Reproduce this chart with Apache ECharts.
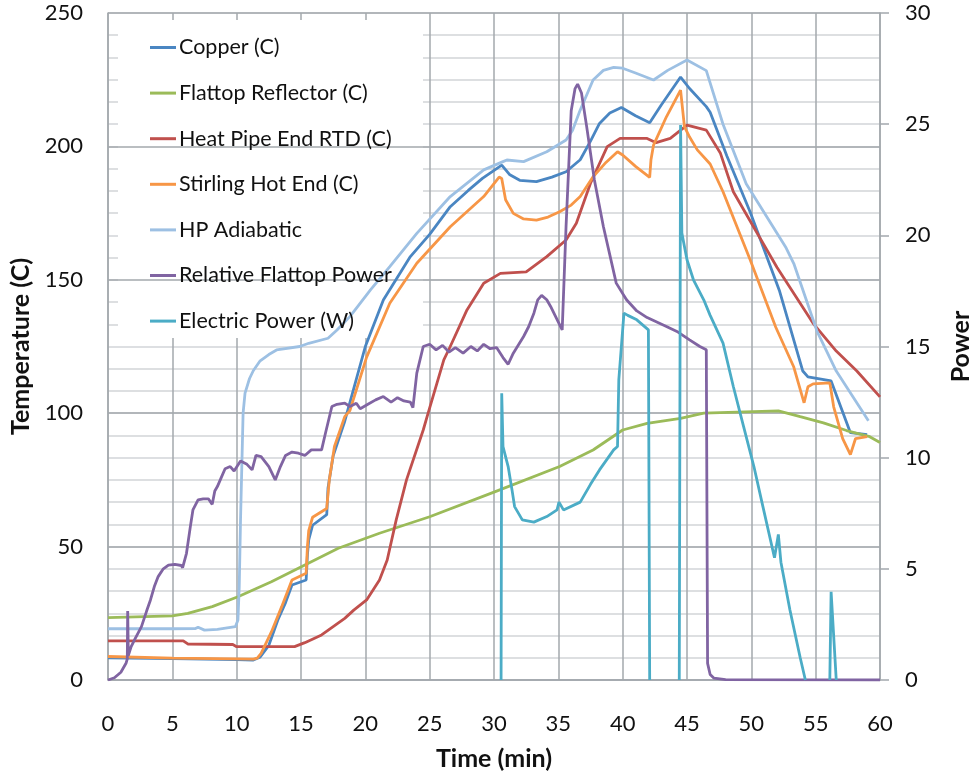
<!DOCTYPE html>
<html>
<head>
<meta charset="utf-8">
<script src="https://cdn.jsdelivr.net/npm/echarts@6/dist/echarts.min.js"></script>
<style>
  html, body { margin: 0; padding: 0; background: #fff; }
  #chart { width: 972px; height: 773px; }
</style>
</head>
<body>
<div id="chart"></div>
<script>
// Temperatures (C) over time (min): [time, value]
const copper = [[0,8.3],[5,8],[10,7.6],[11.3,7.5],[11.8,8.5],[12.5,13],[13.2,22.5],[13.8,29],[14.3,35.6],[15.4,37.5],[15.5,47],[15.6,52.5],[15.9,58],[17.0,62],[17.1,72],[17.5,84],[18.4,97],[19.2,111],[20.0,125],[21.4,142.4],[23.5,158.7],[25,167],[26.6,177.4],[28,183.5],[29.1,188],[30.6,193],[31.2,189.5],[32,187.3],[33.3,186.8],[34.5,188.5],[35.6,190.5],[36.7,195],[37.5,202],[38.2,208.6],[39,212.5],[39.9,214.6],[41,211.5],[42.1,208.9],[43,215.5],[44.5,226],[45.2,221.7],[46.5,214.9],[46.8,212.8],[48.1,196.4],[49.9,175.5],[52.2,145.7],[54.0,115.8],[54.4,113.6],[56.2,112.1],[57.7,92.7],[59.0,92]];

const flattopReflector = [[0,23.4],[5,24],[6.2,25],[8.1,27.5],[10.1,31.2],[12.7,36.8],[15.3,43.1],[17.9,49.4],[21.1,55],[25.0,61.2],[30.1,70.6],[35.1,80],[37.7,86.2],[40.0,93.7],[41.9,96.2],[44.5,98.1],[46.3,100],[52.1,100.9],[53.8,98.7],[55.6,96.4],[57.4,93.5],[59.2,91.2],[60,89]];

const heatPipeEnd = [[0,14.7],[5.85,14.7],[6.2,13.5],[9.7,13.3],[10.0,12.5],[14.5,12.5],[15.3,14],[16.6,16.9],[17.5,20],[18.4,23.1],[19.1,26.2],[20.1,30],[21.1,37.5],[21.7,45],[22.4,60],[23.2,75],[24.5,93.7],[24.8,98.7],[26.1,120],[26.6,125],[27.9,138.7],[29.2,148.7],[30.5,152.4],[32.5,153],[34.1,158.7],[35.6,164.9],[36.4,171.2],[37.5,186.2],[38.8,199.9],[39.8,203],[41.9,203],[42.6,201.4],[43.7,203],[45.0,208],[46.5,206.1],[47.6,197.4],[48.6,183],[50.2,169.6],[52.0,154.6],[54.8,133.7],[56.6,123.3],[58.2,115.8],[60,106.1]];

const stirlingHotEnd = [[0,8.8],[5,8.2],[10,7.9],[11.3,7.8],[11.6,8.2],[11.9,10],[12.7,18],[13.5,27.5],[14.3,37.5],[15.4,40],[15.5,50],[15.6,56],[15.9,61],[17.0,64.3],[17.2,75],[17.6,87.5],[18.4,98.7],[18.8,101],[20.1,121],[21.9,141.2],[24.0,156.2],[26.6,169.9],[29.2,181.2],[30.4,188.5],[30.6,188],[30.9,180],[31.5,174.9],[32.3,172.8],[33.3,172.4],[34.2,173.5],[35.1,175.5],[36.0,178],[36.7,181.2],[37.7,188.6],[38.7,194],[39.6,198],[40.0,196.8],[41,192.5],[42.1,188.4],[42.2,195],[42.4,200.5],[43.4,211.1],[44.5,221.1],[44.8,207.4],[45.2,203.5],[45.8,198.7],[46.8,193.4],[47.8,183],[49.9,157.6],[51.9,132.2],[53.3,117.3],[54.1,103.9],[54.4,109.9],[54.8,111],[56.1,111.4],[56.4,102.4],[57.1,90.5],[57.7,84.5],[58.1,90.5],[59.0,91.2]];

const hpAdiabatic = [[0,19.2],[5,19.2],[6.8,19.3],[7.0,19.8],[7.5,18.7],[8.5,19],[9.9,20],[10.1,22.5],[10.2,35],[10.3,60],[10.5,100],[10.65,107.5],[11.0,113],[11.3,116],[11.8,119.5],[12.5,122],[13.1,123.7],[14.9,125],[15.6,126.2],[17.1,128.1],[17.8,131.2],[18.8,136.2],[20.4,146.2],[21.9,154.9],[24.0,167.4],[26.6,181.2],[29.2,191.2],[30.7,194.3],[31.0,194.9],[32.3,194.3],[34.1,198],[35.6,202.4],[36.1,206],[36.7,213.6],[37.7,224.9],[38.5,228.5],[39.3,229.6],[40.0,229.3],[41,227.5],[42.4,224.9],[43.5,228.5],[45.0,232.4],[46.5,228.4],[47.8,208.3],[49.6,186],[52.7,162],[53.3,156.1],[55.1,130.8],[56.6,115.8],[59.1,97.2]];

// Power over time (min): [time, value]
const relativeFlattopPower = [[0,0],[0.5,0.1],[1.0,0.35],[1.4,0.75],[1.5,0.95],[1.53,3.1],[1.58,1.1],[1.8,1.5],[2.1,1.85],[2.6,2.4],[3.0,3.1],[3.3,3.6],[3.6,4.2],[3.9,4.65],[4.3,5.0],[4.7,5.17],[5.2,5.2],[5.7,5.15],[5.8,5.05],[6.1,5.7],[6.4,6.9],[6.6,7.65],[7.0,8.1],[7.4,8.15],[7.8,8.15],[8.1,7.9],[8.3,8.5],[8.5,8.7],[8.8,9.1],[9.1,9.5],[9.5,9.6],[9.8,9.4],[10.3,9.85],[10.8,9.7],[11.2,9.45],[11.5,10.1],[11.9,10.05],[12.5,9.6],[13.0,9.0],[13.4,9.6],[13.8,10.1],[14.3,10.25],[14.8,10.2],[15.3,10.1],[15.8,10.35],[16.6,10.35],[16.9,11.1],[17.4,12.3],[17.8,12.4],[18.4,12.45],[18.8,12.3],[19.3,12.45],[19.6,12.2],[20.2,12.4],[20.8,12.6],[21.4,12.75],[22.0,12.5],[22.5,12.7],[23.0,12.55],[23.5,12.5],[23.7,12.25],[24.0,13.8],[24.5,15.0],[25.0,15.1],[25.5,14.85],[26.0,15.05],[26.5,14.75],[27.0,14.95],[27.6,14.7],[28.2,15.0],[28.7,14.8],[29.2,15.1],[29.7,14.9],[30.2,14.95],[30.7,14.5],[31.1,14.2],[31.5,14.7],[32.3,15.45],[32.7,15.9],[33.1,16.5],[33.4,17.1],[33.7,17.3],[34.1,17.1],[34.4,16.8],[35.0,16.1],[35.3,15.75],[35.6,20.4],[36.0,25.6],[36.3,26.6],[36.5,26.8],[36.8,26.4],[37.2,24.9],[37.8,22.5],[38.5,20.4],[39.5,17.85],[40.3,17.1],[41.1,16.6],[41.9,16.3],[43.4,15.9],[44.3,15.65],[45.2,15.3],[46.0,15.0],[46.5,14.85],[46.6,0.75],[46.8,0.25],[47.1,0.08],[48,0.02],[60,0]];

const electricPower = [[30.55,0],[30.6,12.9],[30.7,10.5],[31.1,9.6],[31.4,8.55],[31.6,7.8],[32.2,7.2],[33.1,7.1],[34.1,7.35],[34.9,7.65],[35.05,8.0],[35.4,7.65],[36.7,8.0],[37.5,8.8],[38.2,9.45],[39.3,10.35],[39.6,10.5],[39.7,13.5],[40.1,16.5],[40.4,16.4],[41.1,16.2],[42.0,15.75],[42.1,0],'-',[44.4,0],[44.5,24.96],[44.6,20.1],[45.0,18.9],[45.5,18.0],[46.3,17.1],[46.8,16.4],[47.8,15.15],[48.6,13.2],[49.4,11.4],[50.2,9.6],[50.9,7.8],[51.8,5.5],[52.1,6.55],[52.3,5.3],[53.0,3.15],[53.8,1.0],[54.2,0],'-',[56.1,0],[56.2,3.97],[56.6,0]];

const seriesNames = ['Copper (C)','Flattop Reflector (C)','Heat Pipe End RTD (C)','Stirling Hot End (C)','HP Adiabatic','Relative Flattop Power','Electric Power (W)'];
const seriesColors = ['#4A86C2','#9BBB59','#C0504D','#F79646','#9DC0E3','#8064A2','#4BACC6'];
const seriesData = [copper, flattopReflector, heatPipeEnd, stirlingHotEnd, hpAdiabatic, relativeFlattopPower, electricPower];
const seriesAxis = [0,0,0,0,0,1,1];

const FONT = 'Lato, "Open Sans", sans-serif';
const MAJOR = '#A3A8AD';
const MINOR = '#D2D5D8';

const chart = echarts.init(document.getElementById('chart'), null, { renderer: 'canvas' });

chart.setOption({
  animation: false,
  backgroundColor: '#ffffff',
  textStyle: { fontFamily: FONT },
  grid: { left: 108, right: 92, top: 13, bottom: 93, containLabel: false, outerBoundsMode: 'none' },
  // white panel behind the legend, above the grid lines but below the curves
  graphic: [{
    type: 'rect', z: 1,
    shape: { x: 118, y: 20, width: 305, height: 318 },
    style: { fill: '#ffffff' }
  }],
  legend: {
    orient: 'vertical', left: 150, top: 36.5, padding: 0,
    icon: 'rect', itemWidth: 26, itemHeight: 3, itemGap: 23.6,
    textStyle: { fontFamily: FONT, fontSize: 21.5, color: '#111', padding: [0, 0, 0, -2] },
    data: seriesNames
  },
  xAxis: {
    type: 'value', min: 0, max: 60, interval: 5,
    name: 'Time (min)', nameLocation: 'middle', nameGap: 66,
    nameTextStyle: { fontFamily: FONT, fontSize: 25, fontWeight: 'bold', color: '#111' },
    axisLine: { show: true, lineStyle: { color: MAJOR, width: 1.5 } },
    axisTick: { show: false },
    axisLabel: { fontFamily: FONT, fontSize: 22, color: '#111', margin: 33 },
    splitLine: { show: true, lineStyle: { color: MAJOR, width: 1.5 } }
  },
  yAxis: [{
    type: 'value', min: 0, max: 250, interval: 50, position: 'left',
    name: 'Temperature (C)', nameLocation: 'middle', nameGap: 70,
    nameTextStyle: { fontFamily: FONT, fontSize: 25, fontWeight: 'bold', color: '#111' },
    axisLine: { show: true, lineStyle: { color: MAJOR, width: 1.5 } },
    axisTick: { show: false },
    axisLabel: { fontFamily: FONT, fontSize: 22, color: '#111', margin: 25 },
    splitLine: { show: true, lineStyle: { color: MAJOR, width: 1.5 } },
    z: 1
  }, {
    type: 'value', min: 0, max: 30, interval: 5, position: 'right',
    name: 'Power', nameLocation: 'middle', nameGap: 68,
    nameTextStyle: { fontFamily: FONT, fontSize: 25, fontWeight: 'bold', color: '#111' },
    axisLine: { show: true, lineStyle: { color: MAJOR, width: 1.5 } },
    axisTick: { show: true, inside: false, length: 9, lineStyle: { color: MAJOR, width: 1.5 } },
    axisLabel: { fontFamily: FONT, fontSize: 22, color: '#111', margin: 25 },
    splitLine: { show: true, lineStyle: { color: MINOR, width: 1.5 } },
    minorTick: { show: false, splitNumber: 5 },
    minorSplitLine: { show: true, lineStyle: { color: MINOR, width: 1.5 } },
    z: 0
  }],
  series: seriesNames.map((name, i) => ({
    name: name,
    type: 'line',
    yAxisIndex: seriesAxis[i],
    data: seriesData[i],
    symbol: 'none',
    showSymbol: false,
    connectNulls: false,
    z: 2 + i * 0.01,
    lineStyle: { color: seriesColors[i], width: 2.8 },
    itemStyle: { color: seriesColors[i] }
  }))
});
</script>
</body>
</html>
